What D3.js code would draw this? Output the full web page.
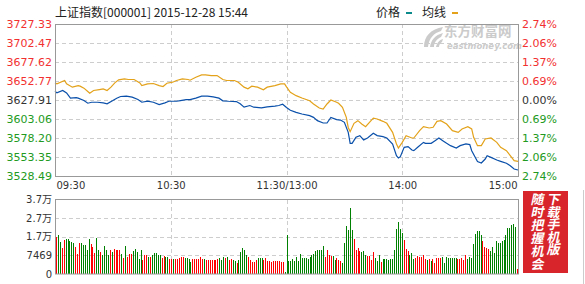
<!DOCTYPE html>
<html><head><meta charset="utf-8">
<script src="https://cdn.jsdelivr.net/npm/d3@7"></script>
<style>html,body{margin:0;padding:0;background:#fff;} svg{display:block;}</style>
</head><body><svg id="c" width="585" height="284"></svg>
<script>
// ---------- data ----------
const titleText = "上证指数[000001] 2015-12-28 15:44";
const legendNames = ["价格", "均线"];
const prevClose = 3627.91;
const priceTicks = [3727.33, 3702.47, 3677.62, 3652.77, 3627.91, 3603.06, 3578.20, 3553.35, 3528.49];
const pctLabels = ["2.74%", "2.06%", "1.37%", "0.69%", "0.00%", "0.69%", "1.37%", "2.06%", "2.74%"];
const timeTicks = [0, 60, 120, 180, 240];
const timeLabels = ["09:30", "10:30", "11:30/13:00", "14:00", "15:00"];
const volTickValues = [0, 0.9336, 1.8673, 2.8009, 3.7345];
const volTickLabels = ["0", "7469", "1.7万", "2.7万", "3.7万"];

// price line (minute index, value)
const priceMin = [0,1,4,6,8,11,12,15,17,19,22,25,27,30,32,34,37,40,43,45,48,51,54,57,59,63,65,68,70,73,76,79,82,85,87,90,94,96,98,101,103,107,110,114,116,118,120,122,125,128,132,134,136,139,141,143,146,148,150,152,153,154,156,158,160,162,165,167,170,172,175,177,178,179,181,183,185,186,188,191,192,195,197,199,201,203,205,208,210,213,215,216,219,221,223,224,226,229,231,234,236,238,240];
const price = [3639.4,3637.2,3640.3,3637.2,3630.3,3631.1,3630.3,3627.2,3623.7,3625.0,3625.0,3624.1,3622.9,3627.2,3630.3,3632.5,3632.9,3631.6,3628.5,3625.0,3626.3,3625.0,3622.0,3624.1,3626.3,3626.3,3627.2,3628.5,3628.5,3630.3,3632.9,3632.9,3632.0,3630.3,3626.8,3626.3,3625.9,3622.9,3618.5,3620.7,3618.5,3617.6,3618.9,3619.8,3620.7,3622.4,3618.0,3614.5,3611.8,3609.6,3607.4,3605.2,3600.9,3597.8,3597.8,3605.2,3602.2,3601.7,3598.7,3585.6,3571.2,3571.2,3579.1,3581.3,3575.6,3578.2,3584.3,3581.3,3580.0,3578.2,3570.4,3555.1,3552.0,3553.8,3566.0,3566.9,3562.5,3561.6,3566.0,3572.5,3571.2,3571.2,3574.7,3578.2,3574.7,3571.2,3568.2,3565.1,3568.2,3570.4,3569.5,3561.6,3547.3,3545.5,3550.7,3555.1,3552.9,3549.4,3547.7,3545.1,3542.0,3537.7,3536.3];

// average line (minute index, value)
const avgMin = [0,1,5,6,9,12,13,15,17,18,20,23,25,27,29,31,33,36,38,41,44,45,48,51,54,56,58,61,63,66,69,70,73,76,78,81,84,87,89,93,95,98,100,102,105,108,110,114,117,119,120,122,125,128,132,134,137,139,141,143,146,147,149,151,152,153,155,157,159,161,163,165,167,170,172,175,177,178,180,182,185,186,189,191,194,196,198,200,203,206,209,211,214,216,217,219,221,223,226,229,231,234,236,238,240];
const avg = [3650.3,3649.0,3653.4,3649.0,3644.7,3646.8,3646.0,3643.4,3639.0,3636.8,3640.3,3641.6,3642.5,3640.3,3644.7,3650.3,3654.3,3655.6,3654.7,3654.7,3650.3,3646.8,3649.0,3649.5,3646.8,3645.5,3649.9,3651.2,3653.4,3655.6,3654.7,3653.8,3657.7,3660.8,3660.8,3659.9,3659.9,3654.7,3653.4,3653.4,3651.2,3644.7,3642.5,3646.0,3644.7,3641.2,3644.7,3646.8,3649.0,3649.0,3645.0,3638.0,3633.6,3630.5,3627.0,3622.7,3617.4,3616.1,3622.7,3627.9,3624.9,3623.6,3618.3,3605.2,3592.0,3586.5,3597.4,3600.9,3596.5,3593.0,3598.7,3604.3,3603.0,3600.0,3597.4,3585.6,3570.4,3565.1,3572.5,3581.3,3578.2,3578.2,3587.8,3593.0,3591.3,3592.2,3600.0,3600.9,3596.5,3587.8,3585.6,3590.0,3593.0,3590.0,3579.1,3568.2,3568.2,3576.9,3578.2,3572.5,3566.0,3561.6,3555.1,3548.6,3547.7];

// per-minute volume (万手) and direction (r = up, g = down)
const volume = [
1.85,1.95,1.60,1.30,1.70,1.75,1.75,1.65,1.60,1.55,
1.35,1.00,1.55,1.55,1.45,1.45,1.20,1.75,1.50,1.35,
1.05,1.80,1.20,1.10,0.95,1.40,1.20,0.95,1.20,1.10,
1.25,1.20,1.20,1.20,1.00,0.80,1.40,0.85,1.00,1.00,
1.15,1.25,1.10,0.75,1.20,0.70,0.95,0.95,0.85,0.85,
0.95,1.05,1.05,0.95,0.95,0.80,0.90,0.85,0.85,0.75,
0.75,0.75,0.75,0.75,0.80,0.85,0.85,0.80,0.80,0.75,
0.60,0.75,0.75,0.75,0.75,0.85,0.75,0.75,0.70,0.70,
0.70,0.70,0.70,0.70,0.75,0.80,0.70,0.85,0.80,0.85,
0.70,0.75,0.70,0.65,0.55,0.70,1.10,1.30,1.20,0.95,
0.85,0.70,0.60,0.60,0.70,0.80,0.80,0.80,0.70,0.80,
0.65,0.65,0.60,0.65,0.65,0.65,0.65,0.60,0.60,0.10,
1.95,
0.65,0.65,0.75,0.65,0.85,0.65,1.00,0.80,0.80,0.80,
0.75,0.85,0.95,1.00,1.15,1.20,1.20,1.20,1.40,0.85,
1.20,0.95,0.90,0.90,0.70,0.80,0.70,0.65,0.55,1.55,
2.40,2.20,3.30,2.20,1.75,1.20,1.30,1.15,1.10,1.15,
0.95,0.90,0.90,0.70,1.10,0.80,0.65,0.95,0.60,0.75,
0.75,0.75,0.70,0.75,0.75,1.20,2.25,2.60,2.25,2.05,
1.70,1.25,1.15,0.95,1.05,0.75,0.80,0.90,0.85,0.85,
0.95,0.75,0.70,0.75,0.65,0.75,0.55,0.80,0.80,0.80,
0.85,0.55,0.85,0.80,0.80,0.80,0.80,0.80,0.75,0.75,
0.80,0.70,0.95,0.75,0.85,0.80,1.50,2.00,2.15,2.15,
1.95,1.65,1.35,1.30,1.25,1.15,1.35,1.05,1.65,1.55,
1.55,1.65,1.70,1.95,2.30,2.30,2.45,2.50,2.35,0.25];
const volDir = (
"rggrrggggg"+"rrrgggggrr"+"rggrggggrg"+"rrrrgrgrrr"+"gggggrrrgr"+"gggggrrggr"+
"rgrrrrrggg"+"grrrrrrgrr"+"rrrrrgggrg"+"rrggrggggg"+"rrrrrgggrr"+"rrrrrrrrrg"+"g"+
"gggggggggg"+"gggggggggr"+"rrrggrrrgg"+"ggggrrrrgg"+"grrrrgggrg"+"gggggggggg"+
"rrrgggrrrr"+"rrgrgrrrrr"+"ggggggggrr"+"rrrggggggg"+"grrrrggggg"+"gggggggggr").split("");

// ---------- layout ----------
const L = 55, R = 518, PT = 24, PB = 176, VT = 199.5, VB = 274;
const RED = "#f23030", GREEN = "#229a22", DARK = "#333";
const svg = d3.select("#c");
const x = d3.scaleLinear().domain([0, 240]).range([L, R]);
const xb = d3.scaleLinear().domain([0, volume.length - 1]).range([L + 1, R - 1]);
const y = d3.scaleLinear().domain([priceTicks[priceTicks.length - 1], priceTicks[0]]).range([PB, PT]);
const yv = d3.scaleLinear().domain([0, volTickValues[volTickValues.length - 1]]).range([VB, VT]);

function colorFor(v) { return Math.abs(v - prevClose) < 0.005 ? DARK : (v > prevClose ? RED : GREEN); }

// watermark
const wm = svg.append("g").attr("fill", "#cbcbcb");
wm.append("path").attr("d", "M424,47 C424,36 431,29 443,27 L441,31 C434,33 429,38 428,47 Z");
wm.append("path").attr("d", "M430,47 C431,40 435,35 443,33 L441,37 C437,39 434,42 434,47 Z");
wm.append("path").attr("d", "M436,47 C437,43 439,40 443,39 L442,42 C440,43 439,45 439,47 Z");
wm.append("text").attr("x", 444).attr("y", 36).attr("font-family", "'Noto Sans CJK SC', sans-serif")
  .attr("font-size", 13.5).attr("font-weight", "bold").text("东方财富网");
wm.append("text").attr("x", 447).attr("y", 48.5).attr("font-family", "'DejaVu Sans', sans-serif")
  .attr("font-size", 8.5).attr("font-weight", "bold").attr("font-style", "italic").text("eastmoney.com");

// gridlines (price)
const gridP = svg.append("g").attr("stroke", "#cdcdcd").attr("stroke-dasharray", "4,3").attr("shape-rendering", "crispEdges");
gridP.selectAll("line.h").data(priceTicks.slice(1, -1)).join("line")
  .attr("x1", L).attr("x2", R).attr("y1", d => Math.round(y(d)) + 0.5).attr("y2", d => Math.round(y(d)) + 0.5);
gridP.selectAll("line.v").data(timeTicks.slice(1, -1)).join("line")
  .attr("x1", d => Math.round(x(d)) + 0.5).attr("x2", d => Math.round(x(d)) + 0.5).attr("y1", PT).attr("y2", PB);

// gridlines (volume)
const gridV = svg.append("g").attr("stroke", "#cdcdcd").attr("stroke-dasharray", "4,3").attr("shape-rendering", "crispEdges");
gridV.selectAll("line.h").data(volTickValues.slice(1, -1)).join("line")
  .attr("x1", L).attr("x2", R).attr("y1", d => Math.round(yv(d)) + 0.5).attr("y2", d => Math.round(yv(d)) + 0.5);
gridV.selectAll("line.v").data(timeTicks.slice(1, -1)).join("line")
  .attr("x1", d => Math.round(x(d)) + 0.5).attr("x2", d => Math.round(x(d)) + 0.5).attr("y1", VT).attr("y2", VB);

// lines
const avgPts = avgMin.map((m, i) => [m, avg[i]]);
const pricePts = priceMin.map((m, i) => [m, price[i]]);
const line = d3.line().x(d => x(d[0])).y(d => y(d[1]));
svg.append("path").datum(avgPts).attr("d", line).attr("fill", "none").attr("stroke", "#e3a21a").attr("stroke-width", 1.2);
svg.append("path").datum(pricePts).attr("d", line).attr("fill", "none").attr("stroke", "#0a50aa").attr("stroke-width", 1.2);

// volume bars
svg.append("g").attr("shape-rendering", "crispEdges").selectAll("rect").data(volume).join("rect")
  .attr("x", (d, i) => Math.round(xb(i)))
  .attr("width", 1)
  .attr("y", d => yv(d))
  .attr("height", d => VB - yv(d))
  .attr("fill", (d, i) => volDir[i] === "r" ? "#ff0000" : "#008000");

// borders
svg.append("rect").attr("x", L + 0.5).attr("y", PT + 0.5).attr("width", R - L).attr("height", PB - PT)
  .attr("fill", "none").attr("stroke", "#999");
svg.append("rect").attr("x", L + 0.5).attr("y", VT).attr("width", R - L).attr("height", VB - VT)
  .attr("fill", "none").attr("stroke", "#999");

// axes
const axL = svg.append("g").attr("transform", `translate(${L},0)`)
  .call(d3.axisLeft(y).tickValues(priceTicks).tickSize(0).tickPadding(3).tickFormat(d3.format(".2f")));
axL.select(".domain").remove();
axL.selectAll("text").attr("font-family", "'DejaVu Sans', sans-serif").attr("font-size", 11)
  .attr("fill", d => colorFor(d));

const axR = svg.append("g").attr("transform", `translate(${R},0)`)
  .call(d3.axisRight(y).tickValues(priceTicks).tickSize(0).tickPadding(4).tickFormat((d, i) => pctLabels[i]));
axR.select(".domain").remove();
axR.selectAll("text").attr("font-family", "'DejaVu Sans', sans-serif").attr("font-size", 11)
  .attr("fill", d => colorFor(d));

const axT = svg.append("g").attr("transform", `translate(0,${PB})`)
  .call(d3.axisBottom(x).tickValues(timeTicks).tickSize(0).tickPadding(6).tickFormat((d, i) => timeLabels[i]));
axT.select(".domain").remove();
axT.selectAll("text").attr("font-family", "'DejaVu Sans', sans-serif").attr("font-size", 10).attr("fill", DARK)
  .attr("text-anchor", (d, i) => i === 0 ? "start" : (i === timeTicks.length - 1 ? "end" : "middle"))
  .attr("dx", (d, i) => i === 0 ? 1 : (i === timeTicks.length - 1 ? -1 : 0));

const axV = svg.append("g").attr("transform", `translate(${L},0)`)
  .call(d3.axisLeft(yv).tickValues(volTickValues).tickSize(0).tickPadding(3).tickFormat((d, i) => volTickLabels[i]));
axV.select(".domain").remove();
axV.selectAll("text").attr("font-family", "'DejaVu Sans', 'Noto Sans CJK SC', sans-serif").attr("font-size", 10).attr("fill", DARK);

// title & legend
svg.append("text").attr("x", 55).attr("y", 16.5).attr("font-family", "'Noto Sans CJK SC', sans-serif")
  .attr("font-size", 12).attr("fill", "#222").text(titleText);
const lg = svg.append("g").attr("font-family", "'Noto Sans CJK SC', sans-serif").attr("font-size", 12).attr("fill", "#222");
lg.append("text").attr("x", 376).attr("y", 16.5).text(legendNames[0]);
lg.append("rect").attr("x", 406).attr("y", 12).attr("width", 6).attr("height", 2).attr("fill", "#0a8a8a");
lg.append("text").attr("x", 422).attr("y", 16.5).text(legendNames[1]);
lg.append("rect").attr("x", 452).attr("y", 12).attr("width", 6).attr("height", 2).attr("fill", "#e3a21a");

// promo box
svg.append("rect").attr("x", 523).attr("y", 191).attr("width", 45).attr("height", 82).attr("fill", "#d8252b");
const promoR = ["下", "载", "手", "机", "版"];
const promoL = ["随", "时", "把", "握", "机", "会"];
const pg = svg.append("g").attr("font-family", "'Noto Sans CJK SC', sans-serif").attr("font-size", 13)
  .attr("font-weight", "bold").attr("fill", "#fff").attr("text-anchor", "middle");
promoR.forEach((c, i) => pg.append("text").attr("transform", `translate(553,${204 + i * 12.6}) skewX(-12)`).text(c));
promoL.forEach((c, i) => pg.append("text").attr("transform", `translate(537,${204 + i * 13}) skewX(-12)`).text(c));
svg.append("line").attr("x1", 583.5).attr("x2", 583.5).attr("y1", 190).attr("y2", 284).attr("stroke", "#ccc");
</script></body></html>
